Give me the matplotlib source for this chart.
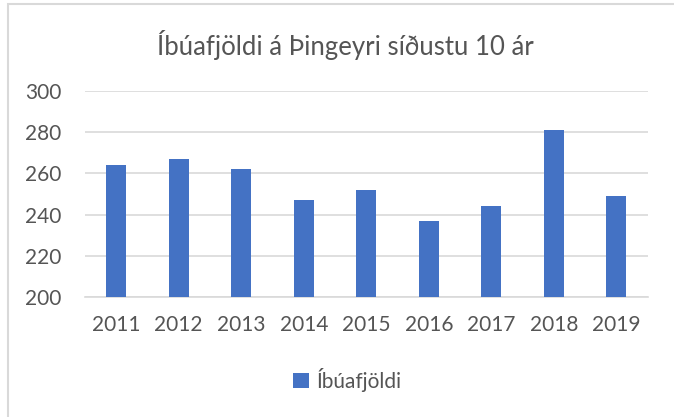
import matplotlib
matplotlib.use("Agg")
import matplotlib.pyplot as plt
from matplotlib.patches import Rectangle

years = ["2011", "2012", "2013", "2014", "2015", "2016", "2017", "2018", "2019"]
residents = [264, 267, 262, 247, 252, 237, 244, 281, 249]
title = "Íbúafjöldi á Þingeyri síðustu 10 ár"
series_name = "Íbúafjöldi"

plt.rcParams['font.family'] = ['Lato', 'DejaVu Sans']

fig = plt.figure(figsize=(6.74, 4.17), dpi=100)
ax = fig.add_axes([0.126, 0.2885, 0.835, 0.4925])

x = range(len(years))
ax.bar(x, residents, width=0.32, color="#4472C4", label=series_name, zorder=3)
ax.set_xlim(-0.5, len(years) - 0.5)
ax.set_ylim(200, 300)
ax.set_yticks([200, 220, 240, 260, 280, 300])
ax.set_xticks(list(x))
ax.set_xticklabels(years)
ax.grid(axis="y", color="#d9d9d9", linewidth=1.2, zorder=0)
for s in ["top", "right", "left"]:
    ax.spines[s].set_visible(False)
ax.spines["bottom"].set_color("#d9d9d9")
ax.spines["bottom"].set_linewidth(1.2)
ax.tick_params(axis="both", length=0, labelsize=15, colors="#555555")
ax.tick_params(axis="y", pad=17)
ax.tick_params(axis="x", pad=13)

fig.text(0.513, 0.893, title, ha="center", va="center", fontsize=18.5, color="#555555")

fig.legend(handles=ax.get_legend_handles_labels()[0], labels=[series_name],
           loc="center", bbox_to_anchor=(0.515, 0.089), frameon=False,
           fontsize=15, labelcolor="#555555", handlelength=0.75, handleheight=0.75,
           handletextpad=0.35)

fig.patches.append(Rectangle((8 / 674, -0.1), 1.2, 1.1 - 4 / 417, transform=fig.transFigure,
                             fill=False, edgecolor="#d9d9d9", linewidth=1.5))

fig.savefig("out.png", dpi=100)
